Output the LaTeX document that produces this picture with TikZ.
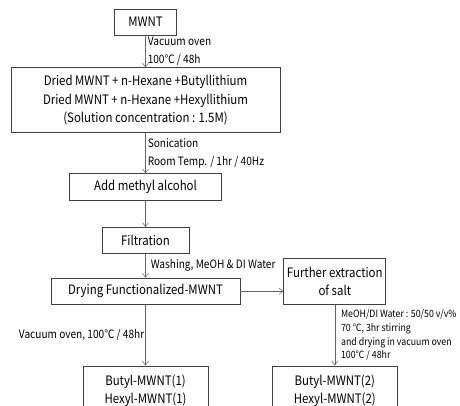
\documentclass[tikz,border=0pt]{standalone}
\usepackage{fontspec}
\setmainfont{Noto Sans CJK KR}[FakeStretch=0.88]
\usetikzlibrary{arrows.meta,positioning}

\begin{document}
\begin{tikzpicture}[
  x=1pt, y=-1pt,
  font=\fontsize{13}{18.5}\selectfont,
  stage/.style={draw=black!75, line width=0.8pt, fill=white,
                minimum height=26pt, inner sep=2pt, align=center},
  edge/.style={-{Straight Barb[length=4pt,width=6pt]}, draw=black!60, line width=0.5pt},
  cond/.style={font=\fontsize{11.5}{17.5}\selectfont, align=left, inner sep=1pt},
  smallcond/.style={font=\fontsize{10}{13.7}\selectfont, align=left, inner sep=1pt},
]
\useasboundingbox (0,0) rectangle (460,405);
\clip (0,0) rectangle (460,405);

% main line
\node[stage, minimum width=62pt] (mwnt) at (145.5,22) {MWNT};
\node[stage, minimum width=269pt, minimum height=65pt, below=32pt of mwnt] (mix)
  {Dried MWNT + n-Hexane +Butyllithium\\Dried MWNT + n-Hexane +Hexyllithium\\(Solution concentration : 1.5M)};
\node[stage, minimum width=152pt, minimum height=27pt, below=40pt of mix] (meoh) {Add methyl alcohol};
\node[stage, minimum width=87pt, below=26pt of meoh] (filt) {Filtration};
\node[stage, minimum width=189pt, below=24pt of filt] (dry) {Drying Functionalized-MWNT};
\node[stage, minimum width=102pt, minimum height=46pt, right=43pt of dry.south east, anchor=south west] (extr)
  {Further extraction\\of salt};
\node[stage, minimum width=125pt, minimum height=49pt, below=61pt of dry] (prod1)
  {Butyl-MWNT(1)\\Hexyl-MWNT(1)};
\node[stage, minimum width=125pt, minimum height=49pt, below=61pt of extr] (prod2)
  {Butyl-MWNT(2)\\Hexyl-MWNT(2)};

\draw[edge] (mwnt) -- node[cond, right=1pt] (lvac) {Vacuum oven\\100℃ / 48h} (mix);
\draw[edge] (mix) -- node[cond, right=1pt] (lsoni) {Sonication\\Room Temp. / 1hr / 40Hz} (meoh);
\draw[edge] (meoh) -- (filt);
\draw[edge] (filt) -- node[cond, right=4pt] (lwash) {Washing, MeOH \& DI Water} (dry);
\draw[edge] (dry) -- (extr.west |- dry);
\draw[edge] (dry) -- node[cond, left=0pt] (loven) {Vacuum oven, 100℃ / 48hr} (prod1);
\draw[edge] (extr) -- node[smallcond, right=5pt] (lextr)
  {MeOH/DI Water : 50/50 v/v\%\\70 ℃, 3hr stirring\\and drying in vacuum oven\\100℃ / 48hr} (prod2);

\end{tikzpicture}
\end{document}
